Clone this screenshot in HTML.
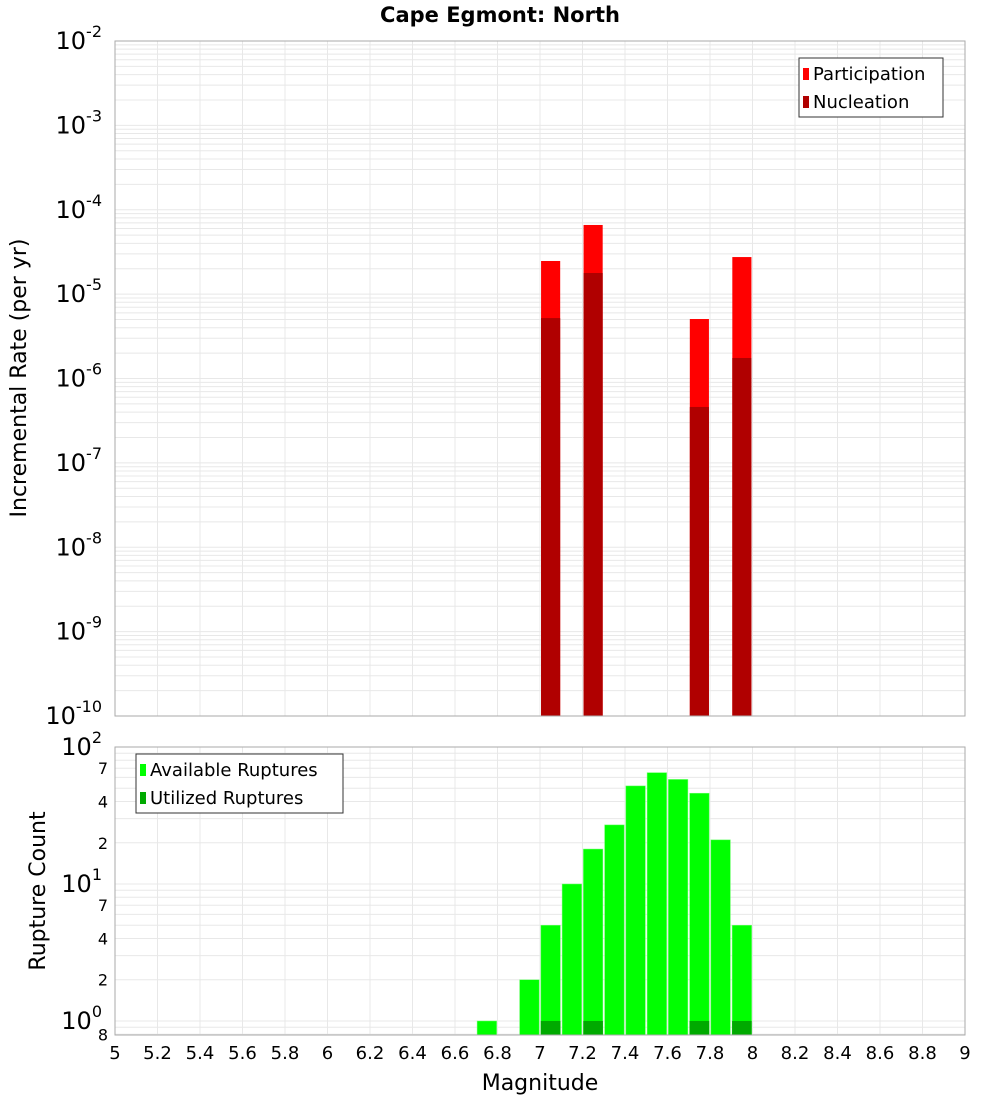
<!DOCTYPE html>
<html><head><meta charset="utf-8"><style>
body{margin:0;background:#fff;font-family:"Liberation Sans","DejaVu Sans",sans-serif}
svg text{font-family:"DejaVu Sans","Liberation Sans",sans-serif}
</style></head><body>
<svg id="c" width="1000" height="1100" xmlns="http://www.w3.org/2000/svg">
<text x="500" y="22" text-anchor="middle" font-size="21" font-weight="bold">Cape Egmont: North</text>
<g id="topg"></g>
<g id="botg"></g>
<text transform="translate(26,378) rotate(-90)" text-anchor="middle" font-size="22">Incremental Rate (per yr)</text>
<text transform="translate(45,891) rotate(-90)" text-anchor="middle" font-size="22">Rupture Count</text>
<text x="540" y="1090" text-anchor="middle" font-size="22">Magnitude</text>
</svg>
<script>
const binCenters=[6.75,6.95,7.05,7.15,7.25,7.35,7.45,7.55,7.65,7.75,7.85,7.95];
const available=[1,2,5,10,18,27,52,65,58,46,21,5];
const utilized=[0,0,1,0,1,0,0,0,0,1,0,1];
const rateMags=[7.05,7.25,7.75,7.95];
const participation=[2.47e-5,6.6e-5,5.07e-6,2.75e-5];
const nucleation=[5.2e-6,1.78e-5,4.6e-7,1.75e-6];
const xTicks=[5,5.2,5.4,5.6,5.8,6,6.2,6.4,6.6,6.8,7,7.2,7.4,7.6,7.8,8,8.2,8.4,8.6,8.8,9];
const rateExps=[-2,-3,-4,-5,-6,-7,-8,-9,-10];
const NS='http://www.w3.org/2000/svg';
const X0=115,X1=965,T0=41,T1=716,B0=747,B1=1035;
const x=m=>X0+(m-5)/4*(X1-X0);
const yT=v=>T0+(-2-Math.log10(v))/8*(T1-T0);
const BMIN=0.79;
const yB=v=>B0+(2-Math.log10(v))/(2-Math.log10(BMIN))*(B1-B0);
function el(p,t,a,txt){const e=document.createElementNS(NS,t);for(const k in a)e.setAttribute(k,a[k]);if(txt!==undefined)e.textContent=txt;p.appendChild(e);return e;}
const gTop=document.getElementById('topg'),gBot=document.getElementById('botg');
function grid(g,y0,y1,yf,lo,hi){
 for(const t of xTicks){const l=el(g,'line',{x1:x(t),x2:x(t),y1:y0,y2:y1,stroke:'#e8e8e8'});
 
 }
 for(let e=lo;e<hi;e++)for(let k=1;k<10;k++){const v=k*Math.pow(10,e);const yy=yf(v);if(yy<y0||yy>y1)continue;
 const l=el(g,'line',{x1:X0,x2:X1,y1:yy,y2:yy,stroke:'#e8e8e8'});
 
 }
}
grid(gTop,T0,T1,yT,-10,-2);
grid(gBot,B0,B1,yB,-1,2);
const bw=(x(5.1)-x(5))*0.9;
rateMags.forEach((m,i)=>{
 const r=el(gTop,'rect',{x:x(m)-bw/2,y:yT(participation[i]),width:bw,height:T1-yT(participation[i]),fill:'#ff0000'});
 
 
 const n=el(gTop,'rect',{x:x(m)-bw/2,y:yT(nucleation[i]),width:bw,height:T1-yT(nucleation[i]),fill:'#b00000'});
 
 
});
el(gTop,'rect',{x:X0,y:T0,width:X1-X0,height:T1-T0,fill:'none',stroke:'#aaa'});
rateExps.forEach(e=>{const t=el(gTop,'text',{x:102,y:yT(Math.pow(10,e))+8,'text-anchor':'end','font-size':24});
 
 
 t.textContent='10';el(t,'tspan',{dy:-12,'font-size':16},String(e));});
const gw=(x(5.1)-x(5))*0.92;
binCenters.forEach((m,i)=>{
 const r=el(gBot,'rect',{x:x(m)-gw/2,y:yB(available[i]),width:gw,height:B1-yB(available[i]),fill:'#00ff00',stroke:'#7f7',"stroke-width":0.5});
 
 
 if(utilized[i]>0){const u=el(gBot,'rect',{x:x(m)-gw/2,y:yB(utilized[i]),width:gw,height:B1-yB(utilized[i]),fill:'#00aa00'});
 
 }
});
el(gBot,'rect',{x:X0,y:B0,width:X1-X0,height:B1-B0,fill:'none',stroke:'#aaa'});
[2,1,0].forEach(e=>{const t=el(gBot,'text',{x:102,y:yB(Math.pow(10,e))+8,'text-anchor':'end','font-size':24});
 
 
 t.textContent='10';el(t,'tspan',{dy:-12,'font-size':16},String(e));});
[[7,10],[4,10],[2,10],[7,1],[4,1],[2,1],[8,0.1]].forEach(([k,s])=>{const t=el(gBot,'text',{x:108,y:yB(k*s)+6,'text-anchor':'end','font-size':16},String(k));
 
 });
xTicks.forEach(t=>{const l=el(gBot,'text',{x:x(t),y:1059,'text-anchor':'middle','font-size':18},String(t));
 
 });
function legend(g,bx,by,w,items){const lg=el(g,'g',{});
 
 
 el(lg,'rect',{x:bx,y:by,width:w,height:59,fill:'#fff',stroke:'#333'});
 items.forEach(([lab,c],i)=>{el(lg,'rect',{x:bx+4,y:by+10+i*28,width:6,height:12,fill:c});
 const t=el(lg,'text',{x:bx+14,y:by+22+i*28,'font-size':18},lab);
 
 });}
legend(gTop,799,58,144,[['Participation','#ff0000'],['Nucleation','#b00000']]);
legend(gBot,136,754,207,[['Available Ruptures','#00ff00'],['Utilized Ruptures','#00aa00']]);
</script>
</body></html>
